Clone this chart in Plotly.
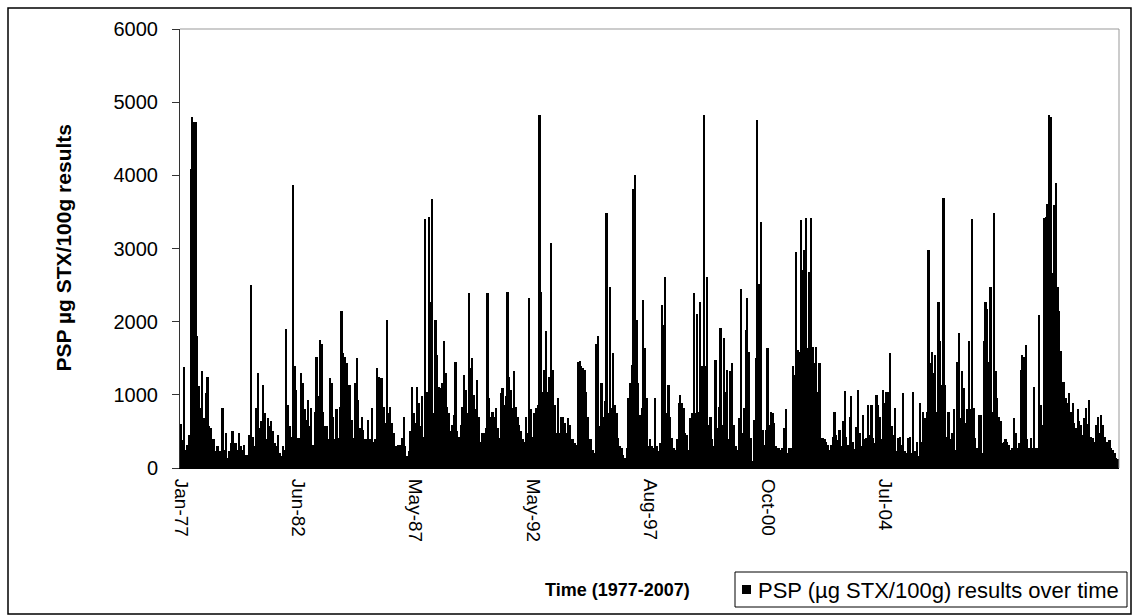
import plotly.graph_objects as go

# PSP results (µg STX/100g), read left to right off the chart, in chunks
seg_1977_1982 = [600, 380, 1380, 250, 320, 450, 4090, 4800, 4730, 4730,
                 1800, 1115, 820, 1320, 680, 1020, 1250, 570, 545, 390,
                 390, 230, 300, 230, 230, 820, 250, 480, 140, 230,
                 340, 500, 340, 340, 250, 480, 300, 250, 320, 180,
                 180, 450, 2500, 430, 300, 820, 1300, 545, 640, 1140,
                 750, 390, 680, 570, 640, 500, 340, 300, 450, 200,
                 160, 300, 240, 1900, 860, 570, 420, 3870]
seg_1982_1987 = [1400, 1070, 410, 410, 1300, 1160, 800, 660, 930, 570,
                 820, 320, 770, 1520, 980, 1750, 1700, 770, 570, 570,
                 390, 1230, 1160, 700, 390, 800, 410, 840, 2140, 1570,
                 1520, 1430, 1140, 1140, 660, 410, 1160, 1500, 930, 545,
                 700, 520, 390, 390, 660, 390, 820, 360, 390, 1360,
                 1250, 1230, 1230, 840, 610, 2020, 750, 840, 610, 480,
                 300, 300, 320, 320, 410, 700, 300, 160, 230, 500,
                 1110, 750]
seg_1987_1992 = [610, 1110, 890, 570, 980, 430, 3410, 1045, 3430, 2270,
                 3680, 750, 2020, 1545, 1110, 1090, 1160, 1730, 1300, 840,
                 750, 500, 590, 730, 1450, 500, 430, 590, 840, 1270,
                 1070, 750, 2390, 1360, 1500, 1000, 800, 1200, 700, 360,
                 480, 480, 545, 2390, 950, 700, 770, 700, 820, 545,
                 410, 1020, 1090, 860, 980, 2410, 1250, 1070, 820, 1320,
                 840, 700, 590, 500, 390, 360, 700, 480, 2320, 800,
                 430, 750, 820, 860]
seg_1992_1996 = [4820, 2410, 1045, 1340, 1870, 1045, 1250, 3070, 1340, 860,
                 480, 950, 480, 700, 700, 610, 480, 680, 590, 390,
                 390, 340, 320, 1450, 1460, 1390, 1360, 1340, 1045, 700,
                 390, 390, 250, 200, 1700, 1800, 570, 1160, 700, 910,
                 3480, 750, 2480, 820, 1570, 860, 750, 410, 300, 270,
                 180, 140, 270, 950, 1160, 1410, 3820, 4010, 2020, 1160,
                 730, 820, 2300, 1640, 950, 300, 390, 300, 270, 950,
                 300]
seg_1996_1999 = [230, 340, 2230, 1950, 2610, 750, 1140, 700, 410, 270,
                 250, 390, 890, 1000, 890, 820, 480, 450, 250, 680,
                 750, 2390, 750, 2110, 770, 2270, 1390, 4820, 1390, 2610,
                 590, 700, 390, 300, 1480, 545, 840, 1920, 590, 1780,
                 1045, 1340, 390, 1320, 1430, 590, 300, 250, 680, 2450]
seg_1999_2002 = [480, 820, 1890, 2330, 1580, 410, 90, 660, 1500, 4750,
                 2520, 3360, 520, 320, 520, 1640, 590, 770, 750, 610,
                 300, 270, 270, 250, 270, 545, 800, 200, 270, 270,
                 1390, 1270, 2950, 1610, 1590, 3390, 2700, 2980, 3420, 1640,
                 2680, 3420, 1660, 1430, 1660, 1045, 1430, 410, 410, 390,
                 360, 320, 250, 320, 430, 770, 450, 380, 520, 300,
                 640, 1050, 420, 310, 700, 980, 350, 260, 560, 1060,
                 480, 300, 720, 400, 410, 860, 450, 860, 410, 340,
                 1000]
seg_2002_2005 = [860, 700, 390, 1070, 890, 1045, 1045, 1570, 570, 450,
                 820, 230, 410, 430, 320, 1020, 230, 200, 410, 430,
                 200, 1045, 230, 360, 160, 890, 360, 770, 680, 770,
                 2980, 1430, 1590, 1300, 1545, 770, 2270, 1730, 1140, 3690,
                 1140, 430, 770, 390, 480, 800, 250, 1450, 1840, 680,
                 1320, 1090, 610, 800, 1730, 800, 3410, 820, 410, 270,
                 730, 730, 200, 1730]
seg_2005_2007 = [2270, 2180, 1450, 2480, 770, 3480, 1320, 950, 700, 640,
                 340, 360, 390, 360, 320, 250, 270, 680, 480, 270,
                 340, 1340, 1545, 1520, 1680, 390, 270, 410, 270, 1110,
                 270, 270, 2090, 860, 590, 3420, 3430, 3610, 4820, 4800,
                 2660, 3590, 3890, 2480, 2140, 1600, 1180, 1180, 950, 890,
                 1020, 760, 890, 610, 540, 800, 640, 590, 450, 680,
                 820, 600, 930, 430, 410, 350, 590, 700, 480, 730,
                 590, 420, 360, 360, 380, 280, 250, 200, 140, 120]

tick_labels = ["Jan-77", "Jun-82", "May-87", "May-92", "Aug-97", "Oct-00", "Jul-04"]
label_every = 70  # samples between category labels
y_ticks = [0, 1000, 2000, 3000, 4000, 5000, 6000]
series_name = "PSP (µg STX/100g) results over time"

psp = (seg_1977_1982 + seg_1982_1987 + seg_1987_1992 + seg_1992_1996 +
       seg_1996_1999 + seg_1999_2002 + seg_2002_2005 + seg_2005_2007)
n = len(psp)
idx = list(range(n))
tick_pos = [i * label_every for i in range(len(tick_labels))]

W, H = 1133, 616
L, R, T, B = 180, 14, 29, 148
pw, ph = W - L - R, H - T - B


def px(xp):
    return (xp - L) / pw


def py(yp):
    return (H - B - yp) / ph


regular = "Liberation Sans, Arial, sans-serif"

fig = go.Figure()
fig.add_trace(go.Bar(
    x=idx, y=psp,
    marker=dict(color="black", line=dict(width=0)),
    name=series_name,
    showlegend=False,
))

fig.update_layout(
    width=W, height=H,
    margin=dict(l=L, r=R, t=T, b=B, pad=0),
    paper_bgcolor="white", plot_bgcolor="white",
    bargap=0,
    showlegend=False,
    xaxis=dict(
        range=[-0.5, n - 0.5],
        tickmode="array", tickvals=tick_pos, ticktext=tick_labels,
        tickangle=90,
        tickfont=dict(family=regular, size=19, color="black"),
        ticklabelstandoff=6,
        showgrid=False, zeroline=False,
        showline=True, linecolor="black", linewidth=1,
        ticks="",
    ),
    yaxis=dict(
        range=[0, 6000],
        tickmode="array", tickvals=y_ticks,
        tickfont=dict(family=regular, size=20, color="black"),
        ticklabelstandoff=10,
        showgrid=False, zeroline=False,
        showline=True, linecolor="#333333", linewidth=1,
        ticks="outside", ticklen=7, tickcolor="#333333", tickwidth=1,
    ),
    shapes=[
        dict(type="line", xref="paper", yref="paper", x0=0, x1=1, y0=1, y1=1,
             line=dict(color="#999999", width=1)),
        dict(type="line", xref="paper", yref="paper", x0=1, x1=1, y0=0, y1=1,
             line=dict(color="#999999", width=1)),
        # outer chart frame
        dict(type="rect", xref="paper", yref="paper",
             x0=px(8), x1=px(1131), y0=py(614), y1=py(8),
             line=dict(color="black", width=1.5)),
        # legend box and key
        dict(type="rect", xref="paper", yref="paper",
             x0=px(735), x1=px(1127), y0=py(607), y1=py(572),
             line=dict(color="black", width=1), fillcolor="white"),
        dict(type="rect", xref="paper", yref="paper",
             x0=px(742), x1=px(751), y0=py(594), y1=py(585),
             line=dict(width=0), fillcolor="black"),
    ],
    annotations=[
        dict(text="<b>PSP µg STX/100g results</b>", xref="paper", yref="paper",
             x=px(63), y=0.5, textangle=-90, showarrow=False,
             xanchor="center", yanchor="middle",
             font=dict(family=regular, size=21, color="black")),
        dict(text="<b>Time (1977-2007)</b>", xref="paper", yref="paper",
             x=px(617), y=py(590), showarrow=False,
             xanchor="center", yanchor="middle",
             font=dict(family=regular, size=18, color="black")),
        dict(text=series_name, xref="paper", yref="paper",
             x=px(756), y=py(590), showarrow=False,
             xanchor="left", yanchor="middle",
             font=dict(family=regular, size=22, color="black")),
    ],
)

fig.write_html("out.html")
